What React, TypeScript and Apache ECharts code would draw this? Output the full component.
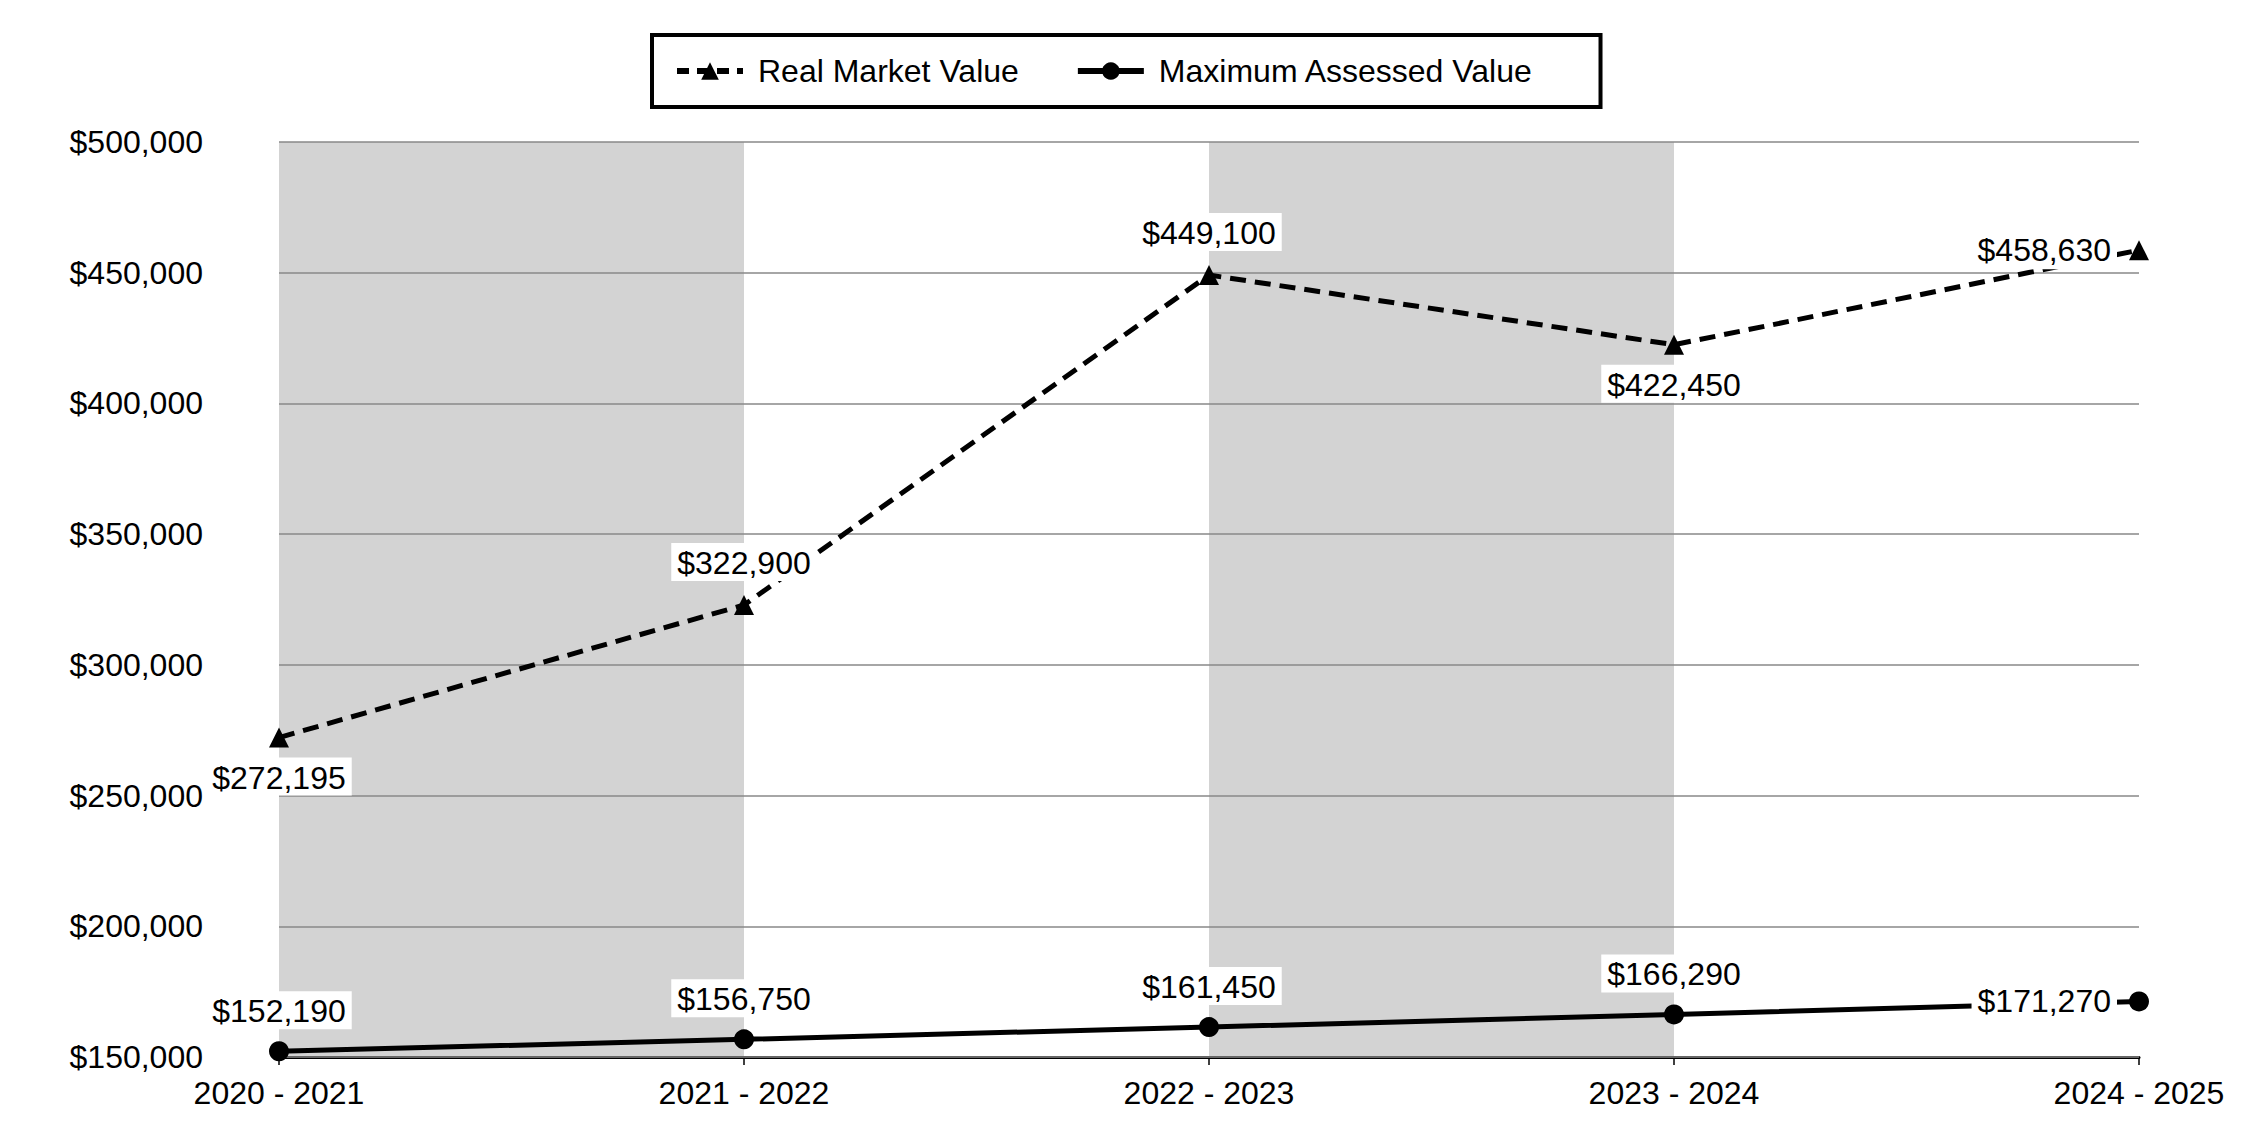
import React, { useEffect, useRef } from "react";
import * as echarts from "echarts";

const categories = ["2020 - 2021", "2021 - 2022", "2022 - 2023", "2023 - 2024", "2024 - 2025"];
const realMarketValue = [272195, 322900, 449100, 422450, 458630];
const maxAssessedValue = [152190, 156750, 161450, 166290, 171270];
const rmvLabelPos = ["bottom", "top", "top", "bottom", "left"];
const mavLabelPos = ["top", "top", "top", "top", "left"];

const FONT = "Arial, 'Liberation Sans', sans-serif";
const fmt = (v: number) => "$" + v.toLocaleString("en-US");

export default function App() {
  const ref = useRef<HTMLDivElement>(null);
  useEffect(() => {
    document.body.style.margin = "0";
    const chart = echarts.init(ref.current!, null, { renderer: "svg" });
    const labelBase = {
      show: true,
      fontSize: 32,
      fontFamily: FONT,
      color: "#000",
      backgroundColor: "#fff",
      padding: [4, 6, 2, 6],
      formatter: (p: any) => fmt(p.value),
    };
    const mk = (vals: number[], pos: string[], topDist: number) =>
      vals.map((v, i) => ({
        value: v,
        label: { position: pos[i], distance: pos[i] === "left" ? 12 : pos[i] === "top" ? topDist : 10 },
      }));
    chart.setOption({
      animation: false,
      textStyle: { fontFamily: FONT },
      legend: {
        left: 652,
        top: 35,
        padding: [20, 67, 20, 22],
        borderColor: "#000",
        borderWidth: 4,
        itemGap: 56,
        itemWidth: 66,
        itemHeight: 22,
        textStyle: { fontSize: 32, color: "#000", fontFamily: FONT, padding: [0, 0, 0, 10] },
        data: [
          { name: "Real Market Value", lineStyle: { width: 6, type: [12, 8] } },
          { name: "Maximum Assessed Value", lineStyle: { width: 6 } },
        ],
      },
      grid: { left: 279, right: 111, top: 142, bottom: 83 },
      xAxis: {
        type: "category",
        data: categories,
        boundaryGap: false,
        axisLine: { show: true, lineStyle: { color: "#000", width: 3 } },
        axisTick: { show: true, length: 8, lineStyle: { color: "#000", width: 1.5 } },
        axisLabel: { fontSize: 32, color: "#000", margin: 20, fontFamily: FONT },
        splitLine: { show: false },
        splitArea: { show: true, areaStyle: { color: ["#d3d3d3", "rgba(255,255,255,0)"] } },
      },
      yAxis: {
        type: "value",
        min: 150000,
        max: 500000,
        interval: 50000,
        z: 3,
        axisLine: { show: false },
        axisTick: { show: false },
        axisLabel: { fontSize: 32, color: "#000", margin: 76, fontFamily: FONT, formatter: fmt },
        splitLine: { show: true, lineStyle: { color: "#888", width: 1.5 } },
      },
      series: [
        {
          name: "Real Market Value",
          type: "line",
          data: mk(realMarketValue, rmvLabelPos, 14),
          symbol: "triangle",
          symbolSize: 20,
          showAllSymbol: true,
          itemStyle: { color: "#000" },
          lineStyle: { color: "#000", width: 5, type: [16, 9] },
          label: labelBase,
          z: 5,
        },
        {
          name: "Maximum Assessed Value",
          type: "line",
          data: mk(maxAssessedValue, mavLabelPos, 12),
          symbol: "circle",
          symbolSize: 20,
          showAllSymbol: true,
          itemStyle: { color: "#000" },
          lineStyle: { color: "#000", width: 5, type: "solid" },
          label: labelBase,
          z: 5,
        },
      ],
    });
    return () => chart.dispose();
  }, []);
  return <div ref={ref} style={{ width: 2250, height: 1140 }} />;
}
